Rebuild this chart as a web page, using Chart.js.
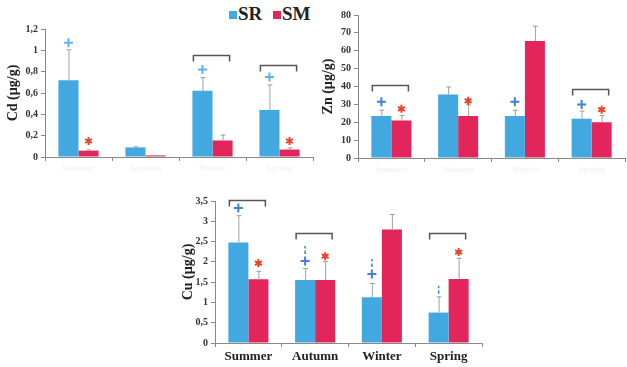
<!doctype html>
<html>
<head>
<title>Metals by season</title>
<script src="https://cdn.jsdelivr.net/npm/chart.js@4.4.0/dist/chart.umd.min.js"></script>
<style>
body{margin:0;background:#fff;width:627px;height:367px;position:relative;overflow:hidden;}
canvas{position:absolute;}
#legend{position:absolute;left:229px;top:3px;font:bold 19px "Liberation Serif",serif;color:#222;white-space:nowrap;}
#legend .sw{display:inline-block;width:8px;height:8px;margin-right:1px;vertical-align:1px;}
</style>
</head>
<body>
<div id="legend"><span class="sw" style="background:#41a9e0"></span>SR <span class="sw" style="background:#e2255a;margin-left:6px"></span>SM</div>
<canvas id="cd" width="320" height="180" style="left:0;top:0"></canvas>
<canvas id="zn" width="307" height="180" style="left:320px;top:0"></canvas>
<canvas id="cu" width="315" height="187" style="left:176px;top:180px"></canvas>
<script>
var seasons = ['Summer', 'Autumn', 'Winter', 'Spring'];

// Cd
var cdSR = [0.72, 0.09, 0.62, 0.44];
var cdSM = [0.06, 0.015, 0.155, 0.07];
var cdSRsd = [0.29, 0.01, 0.13, 0.24];
var cdSMsd = [0.01, 0.005, 0.055, 0.02];
var cdPlus = [1.07, null, 0.82, 0.75];
var cdStar = [0.15, null, null, 0.15];
var cdBracket = [null, null, 0.96, 0.86];

// Zn
var znSR = [23.5, 35.5, 23.5, 22];
var znSM = [21, 23.5, 65.5, 20];
var znSRsd = [3.5, 4.5, 3.5, 4.5];
var znSMsd = [3, 6.5, 8.5, 4];
var znPlus = [31.5, null, 31.5, 30];
var znStar = [27.5, 32, null, 27];
var znBracket = [40.8, null, null, 38.6];

// Cu
var cuSR = [2.48, 1.55, 1.13, 0.75];
var cuSM = [1.57, 1.55, 2.8, 1.58];
var cuSRsd = [0.67, 0.3, 0.35, 0.4];
var cuSMsd = [0.21, 0.47, 0.38, 0.52];
var cuPlus = [3.33, 2.02, 1.7, null];
var cuTick = [null, 2.29, 1.97, 1.31];
var cuStar = [1.97, 2.14, null, 2.24];
var cuBracket = [3.52, 2.71, null, 2.71];

var SR_COLOR = '#41a9e0', SM_COLOR = '#e2255a';

var marks = {
  id: 'marks',
  afterDatasetsDraw: function(chart, args, o) {
    var ctx = chart.ctx, y = chart.scales.y;
    var m0 = chart.getDatasetMeta(0).data, m1 = chart.getDatasetMeta(1).data;
    ctx.save();
    // error whiskers (upper only)
    chart.data.datasets.forEach(function(ds, di) {
      chart.getDatasetMeta(di).data.forEach(function(bar, i) {
        var t = y.getPixelForValue(ds.data[i] + ds.sd[i]);
        ctx.strokeStyle = '#a0a0a0'; ctx.lineWidth = 1;
        ctx.beginPath();
        ctx.moveTo(bar.x + 0.5, bar.y); ctx.lineTo(bar.x + 0.5, t);
        ctx.moveTo(bar.x - 2, t + 0.5); ctx.lineTo(bar.x + 3, t + 0.5);
        ctx.stroke();
      });
    });
    for (var i = 0; i < m0.length; i++) {
      var xa = m0[i].x, xb = m1[i].x, w = m0[i].width;
      if (o.bracket && o.bracket[i] != null) {
        var by = Math.round(y.getPixelForValue(o.bracket[i])) + 0.5;
        var l = xa - w / 2 + 1, r = xb + w / 2 - 3;
        ctx.strokeStyle = '#555'; ctx.lineWidth = 1.5;
        ctx.beginPath();
        ctx.moveTo(l, by + 6); ctx.lineTo(l, by); ctx.lineTo(r, by); ctx.lineTo(r, by + 6);
        ctx.stroke();
      }
      if (o.plus && o.plus[i] != null) {
        var py = y.getPixelForValue(o.plus[i]);
        ctx.strokeStyle = o.plusColor; ctx.lineWidth = 2;
        ctx.beginPath();
        ctx.moveTo(xa - 4.5, py); ctx.lineTo(xa + 4.5, py);
        ctx.moveTo(xa, py - 4.5); ctx.lineTo(xa, py + 4.5);
        ctx.stroke();
      }
      if (o.tick && o.tick[i] != null) {
        var ty = y.getPixelForValue(o.tick[i]);
        ctx.strokeStyle = o.plusColor; ctx.lineWidth = 1.5;
        ctx.beginPath();
        ctx.moveTo(xa, ty - 4); ctx.lineTo(xa, ty - 1.5);
        ctx.moveTo(xa, ty + 0.5); ctx.lineTo(xa, ty + 4);
        ctx.stroke();
      }
      if (o.star && o.star[i] != null) {
        var sy = y.getPixelForValue(o.star[i]);
        ctx.strokeStyle = '#e8452c'; ctx.lineWidth = 2;
        ctx.beginPath();
        for (var k = 0; k < 3; k++) {
          var a = Math.PI / 2 + k * Math.PI / 3;
          ctx.moveTo(xb - 4 * Math.cos(a), sy - 4 * Math.sin(a));
          ctx.lineTo(xb + 4 * Math.cos(a), sy + 4 * Math.sin(a));
        }
        ctx.stroke();
      }
    }
    ctx.restore();
  }
};

function fmt(v) { return String(Math.round(v * 10) / 10).replace('.', ','); }

function makeChart(id, o) {
  var serif = '"Liberation Serif", "Times New Roman", serif';
  return new Chart(document.getElementById(id), {
    type: 'bar',
    data: {
      labels: seasons,
      datasets: [
        { label: 'SR', data: o.sr, sd: o.srSd, backgroundColor: SR_COLOR },
        { label: 'SM', data: o.sm, sd: o.smSd, backgroundColor: SM_COLOR }
      ]
    },
    options: {
      responsive: false,
      animation: false,
      layout: { padding: o.pad },
      datasets: { bar: { categoryPercentage: 0.6, barPercentage: 1 } },
      plugins: { legend: { display: false }, tooltip: { enabled: false }, marks: o.marks },
      scales: {
        x: {
          grid: { drawOnChartArea: false, offset: true, color: '#888', tickLength: 4 },
          border: { color: '#888' },
          ticks: { color: o.xColor, font: { family: serif, weight: 'bold', size: o.xSize }, padding: 2 },
          afterFit: function(s) { s.height = o.xh; }
        },
        y: {
          min: 0, max: o.max,
          grid: { drawOnChartArea: false, color: '#888', tickLength: 4 },
          border: { color: '#888' },
          ticks: { stepSize: o.step, color: '#333', font: { family: serif, weight: 'bold', size: 10 }, padding: 3, callback: fmt },
          title: { display: true, text: o.title, color: '#222', font: { family: serif, weight: 'bold', size: 14 }, padding: { top: o.tp, bottom: 0 } },
          afterFit: function(s) { s.width = o.yw; }
        }
      }
    },
    plugins: [marks]
  });
}

makeChart('cd', {
  sr: cdSR, sm: cdSM, srSd: cdSRsd, smSd: cdSMsd, max: 1.2, step: 0.2,
  title: 'Cd (µg/g)', tp: 5, yw: 45, xh: 23, pad: { top: 29, right: 7 },
  xColor: '#f3f3f3', xSize: 9,
  marks: { plus: cdPlus, star: cdStar, bracket: cdBracket, plusColor: '#5ab4ea' }
});
makeChart('zn', {
  sr: znSR, sm: znSM, srSd: znSRsd, smSd: znSMsd, max: 80, step: 10,
  title: 'Zn (µg/g)', tp: 0, yw: 38, xh: 22, pad: { top: 15, right: 2 },
  xColor: '#f3f3f3', xSize: 9,
  marks: { plus: znPlus, star: znStar, bracket: znBracket, plusColor: '#3f7fd6' }
});
makeChart('cu', {
  sr: cuSR, sm: cuSM, srSd: cuSRsd, smSd: cuSMsd, max: 3.5, step: 0.5,
  title: 'Cu (µg/g)', tp: 4, yw: 39, xh: 24, pad: { top: 21, right: 9 },
  xColor: '#222', xSize: 13,
  marks: { plus: cuPlus, tick: cuTick, star: cuStar, bracket: cuBracket, plusColor: '#3f7fd6' }
});
</script>
</body>
</html>
